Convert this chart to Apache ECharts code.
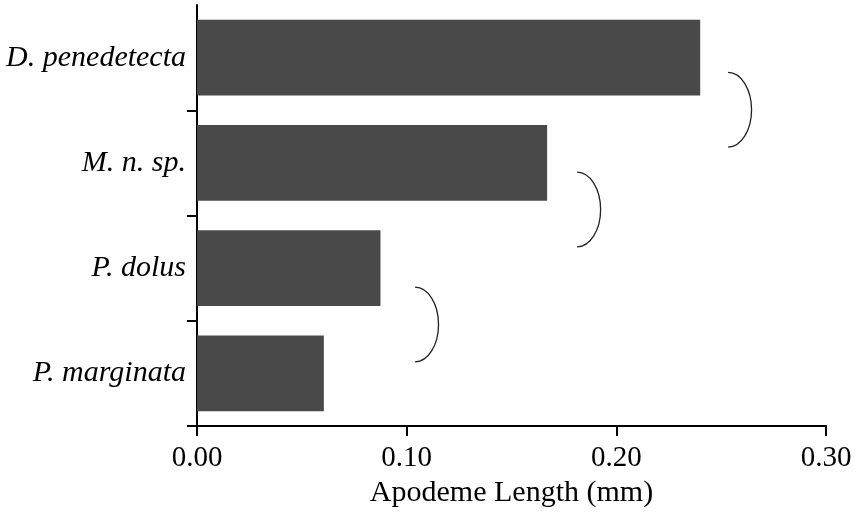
<!DOCTYPE html>
<html>
<head>
<meta charset="utf-8">
<script src="https://cdn.jsdelivr.net/npm/echarts@6/dist/echarts.min.js"></script>
<style>
  html, body { margin: 0; padding: 0; background: #fff; }
  #chart { width: 860px; height: 515px; }
</style>
</head>
<body>
<div id="chart"></div>
<script>
// species, top to bottom
var species = ['D. penedetecta', 'M. n. sp.', 'P. dolus', 'P. marginata'];
var apodemeLength = [0.240, 0.167, 0.0875, 0.0605];
var xTicks = [0, 0.1, 0.2, 0.3];

// brackets between pairs of bars: left x (mm) and centre in category units
var bracketX = [0.2533, 0.1813, 0.104];
var bracketY = [0.495, 1.443, 2.536];

var serif = 'Liberation Serif';
var chart = echarts.init(document.getElementById('chart'));

var bracketData = bracketX.map(function (x, i) { return [x, bracketY[i]]; });

var option = {
    animation: false,
    backgroundColor: '#fff',
    grid: { left: 197, right: 34, top: 5, bottom: 89 },
    xAxis: {
        type: 'value',
        min: xTicks[0],
        max: xTicks[xTicks.length - 1],
        interval: 0.1,
        name: 'Apodeme Length (mm)',
        nameLocation: 'middle',
        nameGap: 52,
        nameTextStyle: { fontFamily: serif, fontSize: 30, color: '#000' },
        axisLine: { show: true, lineStyle: { color: '#000', width: 2 } },
        axisTick: { show: true, length: 10, lineStyle: { color: '#000', width: 2 } },
        axisLabel: {
            margin: 18,
            fontFamily: serif, fontSize: 29, color: '#000',
            formatter: function (v) { return v.toFixed(2); }
        },
        splitLine: { show: false }
    },
    yAxis: {
        type: 'category',
        inverse: true,
        data: species,
        axisLine: { show: true, lineStyle: { color: '#000', width: 2 } },
        axisTick: {
            show: true, length: 10,
            interval: function (idx) { return idx > 0; },
            lineStyle: { color: '#000', width: 2 }
        },
        axisLabel: {
            margin: 11,
            fontFamily: serif, fontSize: 30, fontStyle: 'italic', color: '#000'
        },
        splitLine: { show: false }
    },
    series: [
        {
            type: 'bar',
            data: apodemeLength,
            barCategoryGap: '28%',
            itemStyle: { color: '#494949' },
            silent: true
        },
        {
            type: 'custom',
            data: bracketData,
            silent: true,
            z: 5,
            renderItem: function (params, api) {
                var x = api.value(0), y = api.value(1);
                var i = Math.floor(y), f = y - i;
                var a = api.coord([x, i]), b = api.coord([x, i + 1]);
                var band = b[1] - a[1];
                var x0 = a[0];
                var cy = a[1] + f * band;
                var ry = band * 0.355;
                var rx = api.size([0.0112, 0])[0];
                var k = 0.5523;
                var d = 'M' + x0 + ',' + (cy - ry) +
                    ' C' + (x0 + k * rx) + ',' + (cy - ry) + ' ' + (x0 + rx) + ',' + (cy - k * ry) + ' ' + (x0 + rx) + ',' + cy +
                    ' C' + (x0 + rx) + ',' + (cy + k * ry) + ' ' + (x0 + k * rx) + ',' + (cy + ry) + ' ' + x0 + ',' + (cy + ry);
                return {
                    type: 'path',
                    shape: { pathData: d },
                    style: { fill: null, stroke: '#222', lineWidth: 1.3 }
                };
            }
        }
    ]
};

chart.setOption(option);
</script>
</body>
</html>
